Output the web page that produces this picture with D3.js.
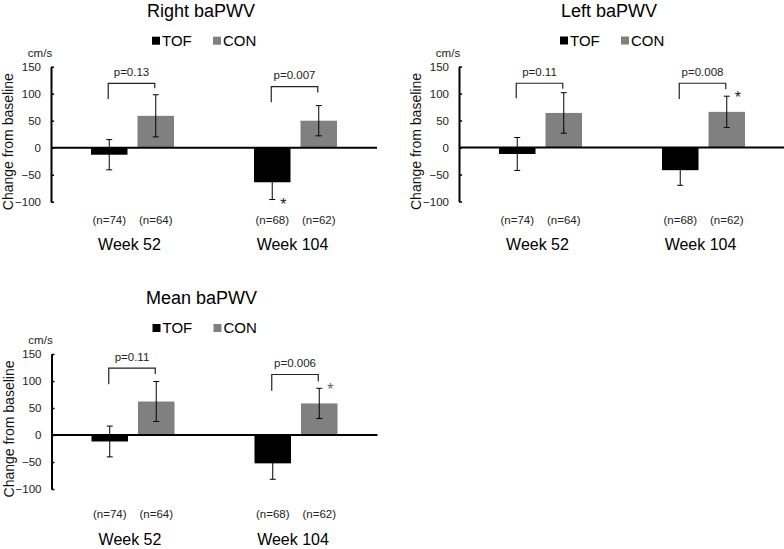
<!DOCTYPE html>
<html>
<head>
<meta charset="utf-8">
<script src="https://cdn.jsdelivr.net/npm/d3@7"></script>
<style>
  body { margin: 0; background: #fff; }
  text { font-family: "Liberation Sans", Arial, sans-serif; }
</style>
</head>
<body>
<div id="plot"></div>
<script>
let width = 784;
let height = 549;

// categories and series
const weeks = ["Week 52", "Week 104"];
const groups = ["TOF", "CON"];
const yTicks = [-100, -50, 0, 50, 100, 150];
const nLabels52 = ["(n=74)", "(n=64)"];
const nLabels104 = ["(n=68)", "(n=62)"];

// Right baPWV
const rightTOF = [-13, -64];
const rightTOFErr = [28, 32];
const rightCON = [59, 50];
const rightCONErr = [39, 28];
const rightP = ["p=0.13", "p=0.007"];
const rightBracketTop = [119, 113];
const rightBracketLegs = [[90, 110], [84, 102]];

// Left baPWV
const leftTOF = [-12, -42];
const leftTOFErr = [30.5, 28];
const leftCON = [64, 66];
const leftCONErr = [37.5, 29];
const leftP = ["p=0.11", "p=0.008"];
const leftBracketTop = [119, 119];
const leftBracketLegs = [[91, 109], [90, 108]];

// Mean baPWV
const meanTOF = [-12, -52.5];
const meanTOFErr = [28.5, 29.5];
const meanCON = [62, 58.5];
const meanCONErr = [37, 28];
const meanP = ["p=0.11", "p=0.006"];
const meanBracketTop = [124, 112];
const meanBracketLegs = [[94, 113], [82, 99]];

const colors = { TOF: "#000000", CON: "#808080" };

let svg = d3.select("#plot")
    .append("svg")
    .attr("width", width)
    .attr("height", height);

function drawPanel(p) {
    let g = svg.append("g");

    let yScale = d3.scaleLinear()
        .domain([-100, 150])
        .range([p.top + 135, p.top]);

    let xWeeks = d3.scaleBand()
        .domain(weeks)
        .range([p.left, p.left + 326]);

    let xGroups = d3.scaleBand()
        .domain(groups)
        .range([0, xWeeks.bandwidth()])
        .paddingInner(0.215)
        .paddingOuter(0.86);

    let center = (w, s) => xWeeks(w) + xGroups(s) + xGroups.bandwidth() / 2;

    // title + legend
    let tx = p.left + 150;
    g.append("text")
        .attr("x", tx).attr("y", p.top - 50)
        .attr("text-anchor", "middle")
        .style("font-size", "18px")
        .text(p.title);

    let legendY = p.top - 21;
    groups.forEach((s, i) => {
        let lx = tx + (i == 0 ? -49 : 12);
        g.append("rect")
            .attr("x", lx).attr("y", legendY - 9)
            .attr("width", 8).attr("height", 8)
            .style("fill", colors[s]);
        g.append("text")
            .attr("x", lx + 10).attr("y", legendY)
            .style("font-size", "15px")
            .text(s);
    });

    // y axis
    let yAxis = d3.axisLeft(yScale)
        .tickValues(yTicks)
        .tickSizeInner(-3)
        .tickSizeOuter(0)
        .tickPadding(10);

    let ax = g.append("g")
        .attr("transform", "translate(" + p.left + ",0)")
        .call(yAxis);
    ax.select(".domain").attr("stroke", "#000").attr("stroke-width", 2);
    ax.selectAll(".tick line").attr("stroke", "#000").attr("stroke-width", 1.5);
    ax.selectAll(".tick text")
        .style("font-size", "11.5px")
        .style("font-family", "Liberation Sans, Arial, sans-serif")
        .attr("fill", "#222");

    g.append("text")
        .attr("x", p.left - 11).attr("y", p.top - 10)
        .attr("text-anchor", "middle")
        .style("font-size", "11.5px")
        .attr("fill", "#222")
        .text("cm/s");

    let labelX = p.left - 38;
    let labelY = p.top + 75;
    g.append("text")
        .attr("x", labelX).attr("y", labelY)
        .attr("text-anchor", "middle")
        .attr("transform", "rotate(-90," + labelX + "," + labelY + ")")
        .style("font-size", "14px")
        .attr("fill", "#111")
        .text("Change from baseline");

    // bars
    let series = { TOF: [p.tof, p.tofErr], CON: [p.con, p.conErr] };
    groups.forEach(s => {
        weeks.forEach((w, i) => {
            let v = series[s][0][i];
            g.append("rect")
                .attr("x", xWeeks(w) + xGroups(s))
                .attr("y", yScale(Math.max(0, v)))
                .attr("width", xGroups.bandwidth())
                .attr("height", Math.abs(yScale(v) - yScale(0)))
                .style("fill", colors[s]);
        });
    });

    // zero line
    g.append("line")
        .attr("x1", p.left).attr("x2", p.left + 326)
        .attr("y1", yScale(0)).attr("y2", yScale(0))
        .attr("stroke", "#000").attr("stroke-width", 2);

    // error bars
    groups.forEach(s => {
        weeks.forEach((w, i) => {
            let v = series[s][0][i];
            let e = series[s][1][i];
            let cx = center(w, s);
            g.append("line")
                .attr("x1", cx).attr("x2", cx)
                .attr("y1", yScale(v - e)).attr("y2", yScale(v + e))
                .attr("stroke", "#000").attr("stroke-width", 1);
            [v - e, v + e].forEach(t => {
                g.append("line")
                    .attr("x1", cx - 3).attr("x2", cx + 3)
                    .attr("y1", yScale(t)).attr("y2", yScale(t))
                    .attr("stroke", "#000").attr("stroke-width", 1);
            });
        });
    });

    // brackets with p values
    weeks.forEach((w, i) => {
        let x1 = center(w, "TOF") - 1;
        let x2 = center(w, "CON") - 1;
        let top = yScale(p.bracketTop[i]);
        g.append("path")
            .attr("d", "M" + x1 + "," + yScale(p.bracketLegs[i][0]) +
                "V" + top + "H" + x2 + "V" + yScale(p.bracketLegs[i][1]))
            .attr("fill", "none")
            .attr("stroke", "#222")
            .attr("stroke-width", 1.2);
        g.append("text")
            .attr("x", (x1 + x2) / 2).attr("y", top - 7.5)
            .attr("text-anchor", "middle")
            .style("font-size", "11.5px")
            .attr("fill", "#222")
            .text(p.pLabels[i]);
    });

    // asterisk
    let st = p.star;
    let sv = series[st.group][0][1];
    let se = series[st.group][1][1];
    let sy = st.below ? yScale(sv - se) + 10 : yScale(sv + se) + 7;
    g.append("text")
        .attr("x", center(weeks[1], st.group) + 11).attr("y", sy)
        .attr("text-anchor", "middle")
        .style("font-size", "16px")
        .attr("fill", st.color)
        .text("*");

    // n labels and week labels
    [nLabels52, nLabels104].forEach((labels, i) => {
        groups.forEach((s, j) => {
            g.append("text")
                .attr("x", center(weeks[i], s)).attr("y", p.nY)
                .attr("text-anchor", "middle")
                .style("font-size", "11.5px")
                .attr("fill", "#222")
                .text(labels[j]);
        });
        g.append("text")
            .attr("x", xWeeks(weeks[i]) + xWeeks.bandwidth() / 2 - 3).attr("y", p.weekY)
            .attr("text-anchor", "middle")
            .style("font-size", "16px")
            .text(weeks[i]);
    });
}

drawPanel({
    title: "Right baPWV", left: 51, top: 66.7, nY: 223.5, weekY: 249.5,
    tof: rightTOF, tofErr: rightTOFErr, con: rightCON, conErr: rightCONErr,
    pLabels: rightP, bracketTop: rightBracketTop, bracketLegs: rightBracketLegs,
    star: { group: "TOF", below: true, color: "#222" }
});

drawPanel({
    title: "Left baPWV", left: 459, top: 66.5, nY: 223.5, weekY: 249.5,
    tof: leftTOF, tofErr: leftTOFErr, con: leftCON, conErr: leftCONErr,
    pLabels: leftP, bracketTop: leftBracketTop, bracketLegs: leftBracketLegs,
    star: { group: "CON", below: false, color: "#222" }
});

drawPanel({
    title: "Mean baPWV", left: 51.5, top: 354, nY: 518, weekY: 545,
    tof: meanTOF, tofErr: meanTOFErr, con: meanCON, conErr: meanCONErr,
    pLabels: meanP, bracketTop: meanBracketTop, bracketLegs: meanBracketLegs,
    star: { group: "CON", below: false, color: "#666" }
});
</script>
</body>
</html>
